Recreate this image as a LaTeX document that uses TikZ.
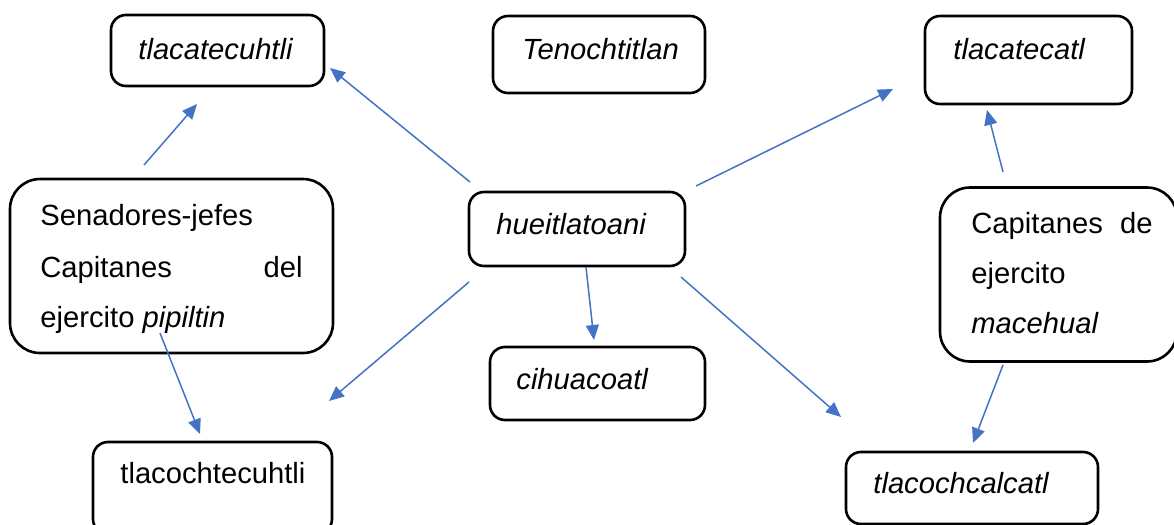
\documentclass[tikz,border=0pt]{standalone}
\usepackage{fontspec}
\setmainfont{Liberation Sans}
\usetikzlibrary{arrows.meta}
\definecolor{linkblue}{HTML}{4472C4}
\tikzset{
  box/.style={draw=black, line width=1.3pt, rounded corners=7.5pt, fill=none, inner sep=0pt},
  bigbox/.style={box, rounded corners=15pt},
  lbl/.style={inner sep=0pt, font=\fontsize{14.6pt}{18pt}\selectfont},
  link/.style={draw=linkblue, line width=0.75pt, -{Triangle[length=7.5pt,width=6.5pt]}},
}
\begin{document}
\begin{tikzpicture}[x=0.5pt,y=-0.5pt]
\useasboundingbox (0,0) rectangle (1174,525);

% boxes
\node[box, minimum width=106.5pt, minimum height=35.5pt] (tlacatecuhtli) at (217.5,50.5) {};
\node[box, minimum width=106pt, minimum height=38.5pt] (tenochtitlan) at (599,54.5) {};
\node[box, minimum width=103.5pt, minimum height=44pt] (tlacatecatl) at (1028.5,60) {};
\node[bigbox, minimum width=161.5pt, minimum height=87pt] (senadores) at (171.5,266) {};
\node[box, minimum width=108pt, minimum height=37pt] (hueitlatoani) at (577,229) {};
\node[bigbox, minimum width=118.5pt, minimum height=87pt] (macehual) at (1058.5,274.5) {};
\node[box, minimum width=107.5pt, minimum height=36.5pt] (cihuacoatl) at (597.5,383.5) {};
\node[box, minimum width=119.5pt, minimum height=46pt] (tlacochtecuhtli) at (212.5,488) {};
\node[box, minimum width=126pt, minimum height=36pt] (tlacochcalcatl) at (972,488) {};

% labels
\node[lbl, anchor=base west] (t1) at (138,59) {\itshape tlacatecuhtli};
\node[lbl, anchor=base west] (t2) at (522,59) {\itshape Tenochtitlan};
\node[lbl, anchor=base west] (t3) at (953,59) {\itshape tlacatecatl};
\node[lbl, anchor=base west] (t4) at (496,234) {\itshape hueitlatoani};
\node[lbl, anchor=base west] (t5) at (516,389) {\itshape cihuacoatl};
\node[lbl, anchor=base west] (t6) at (120,483) {tlacochtecuhtli};
\node[lbl, anchor=base west] (t7) at (873,493) {\itshape tlacochcalcatl};

\node[lbl, anchor=base west] (s1) at (40,225) {Senadores-jefes};
\node[lbl, anchor=base west] (s2) at (40,277) {Capitanes};
\node[lbl, anchor=base east] (s3) at (303,277) {del};
\node[lbl, anchor=base west] (s4) at (40,327) {ejercito \itshape pipiltin};

\node[lbl, anchor=base west] (m1) at (971,233) {Capitanes};
\node[lbl, anchor=base east] (m2) at (1153,233) {de};
\node[lbl, anchor=base west] (m3) at (971,283) {ejercito};
\node[lbl, anchor=base west] (m4) at (971,333) {\itshape macehual};

% connector end points
\coordinate (a1) at (470,182);  \coordinate (a2) at (330,68);
\coordinate (b1) at (144,165);  \coordinate (b2) at (197,104);
\coordinate (c1) at (696,186);  \coordinate (c2) at (893,89);
\coordinate (d1) at (1003,172); \coordinate (d2) at (987,110);
\coordinate (e1) at (586,267);  \coordinate (e2) at (594,340);
\coordinate (f1) at (469,282);  \coordinate (f2) at (329,401);
\coordinate (g1) at (160,333);  \coordinate (g2) at (200,434);
\coordinate (h1) at (681,277);  \coordinate (h2) at (841,417);
\coordinate (i1) at (1003,365); \coordinate (i2) at (973,443);

% connectors
\draw[link] (a1) -- (a2);
\draw[link] (b1) -- (b2);
\draw[link] (c1) -- (c2);
\draw[link] (d1) -- (d2);
\draw[link] (e1) -- (e2);
\draw[link] (f1) -- (f2);
\draw[link] (g1) -- (g2);
\draw[link] (h1) -- (h2);
\draw[link] (i1) -- (i2);
\end{tikzpicture}
\end{document}
